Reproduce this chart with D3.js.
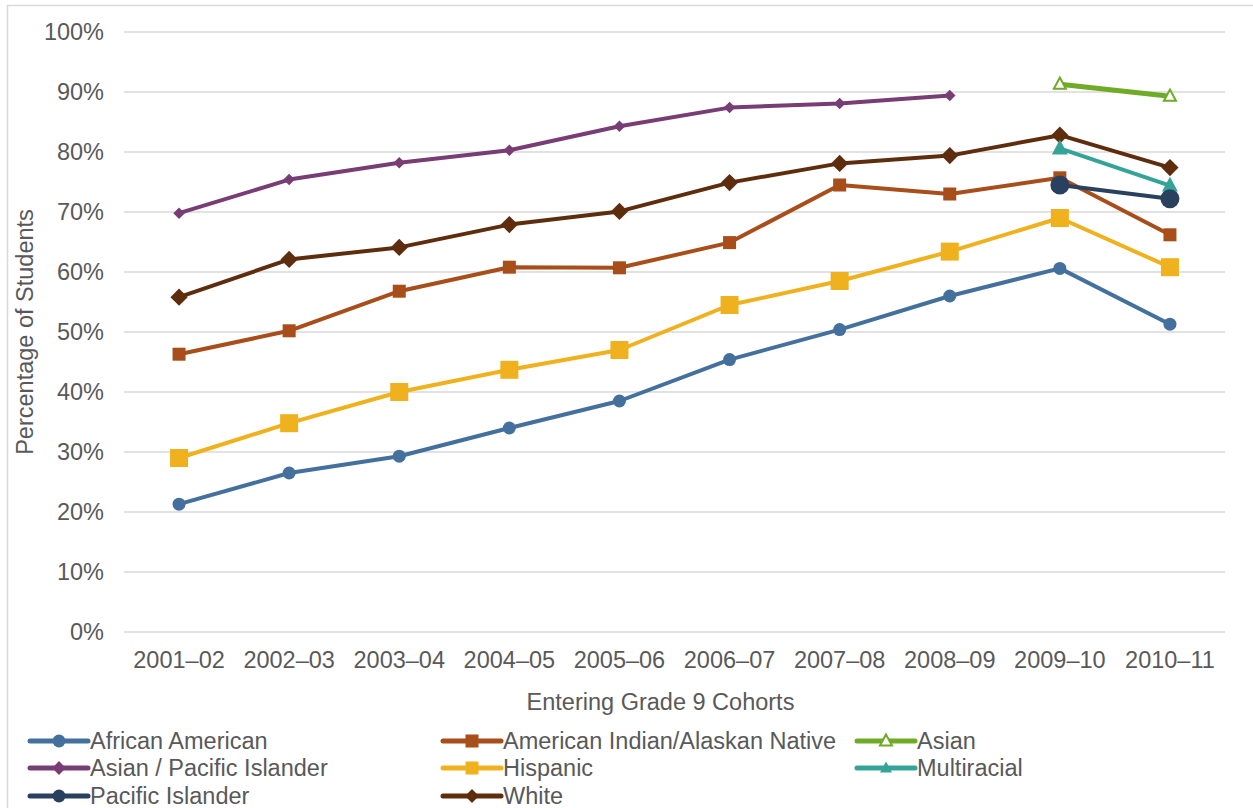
<!DOCTYPE html>
<html>
<head>
<meta charset="utf-8">
<script src="https://cdn.jsdelivr.net/npm/d3@7"></script>
<style>
  body { margin: 0; background: #fff; }
  text { font-family: "Liberation Sans", Arial, sans-serif; fill: #595959; }
</style>
</head>
<body>
<svg id="chart" width="1253" height="808"></svg>
<script>
// cohorts on the x axis
var cohorts = ['2001\u201302', '2002\u201303', '2003\u201304', '2004\u201305', '2005\u201306',
               '2006\u201307', '2007\u201308', '2008\u201309', '2009\u201310', '2010\u201311'];

// percentages, null where a group was not reported
var africanAmerican = [21.3, 26.5, 29.3, 34.0, 38.5, 45.4, 50.4, 56.0, 60.6, 51.3];
var amIndian        = [46.3, 50.2, 56.8, 60.8, 60.7, 64.9, 74.5, 73.0, 75.7, 66.2];
var asian           = [null, null, null, null, null, null, null, null, 91.3, 89.3];
var asianPacific    = [69.8, 75.4, 78.2, 80.3, 84.3, 87.4, 88.1, 89.4, null, null];
var hispanic        = [29.0, 34.8, 40.0, 43.7, 47.0, 54.5, 58.5, 63.4, 69.0, 60.8];
var multiracial     = [null, null, null, null, null, null, null, null, 80.6, 74.4];
var pacificIslander = [null, null, null, null, null, null, null, null, 74.5, 72.2];
var white           = [55.8, 62.1, 64.1, 67.9, 70.1, 74.9, 78.1, 79.4, 82.8, 77.4];

var yTicks = [0, 10, 20, 30, 40, 50, 60, 70, 80, 90, 100];

var series = [
  {name: 'African American', values: africanAmerican, color: '#44709d', shape: 'circle', size: 6.5},
  {name: 'American Indian/Alaskan Native', values: amIndian, color: '#a84e1a', shape: 'square', size: 13},
  {name: 'Asian', values: asian, color: '#6fab27', shape: 'triangleOpen', size: 12},
  {name: 'Asian / Pacific Islander', values: asianPacific, color: '#773d74', shape: 'diamond', size: 10},
  {name: 'Hispanic', values: hispanic, color: '#efb11d', shape: 'square', size: 18},
  {name: 'Multiracial', values: multiracial, color: '#35a397', shape: 'triangle', size: 16},
  {name: 'Pacific Islander', values: pacificIslander, color: '#2a405f', shape: 'circle', size: 9.5},
  {name: 'White', values: white, color: '#5e2d0e', shape: 'diamond', size: 15}
];

// draw order: the later groups sit on top
var drawOrder = [3, 0, 4, 1, 7, 5, 6, 2];

var svg = d3.select('#chart'),
    plotLeft = 124, plotRight = 1225, plotTop = 32, plotBottom = 632,
    fontSize = '23.5px';

var x = d3.scaleBand().domain(cohorts).range([plotLeft, plotRight]);
var y = d3.scaleLinear().domain([0, 100]).range([plotBottom, plotTop]);

// outer frame
svg.append('rect')
  .attr('x', 7.5).attr('y', 5.5)
  .attr('width', 1253).attr('height', 820)
  .attr('fill', 'none').attr('stroke', '#d9d9d9').attr('stroke-width', 1.5);

// gridlines
svg.append('g')
  .selectAll('line')
  .data(yTicks)
  .enter().append('line')
  .attr('x1', plotLeft).attr('x2', plotRight)
  .attr('y1', function(d){ return y(d); })
  .attr('y2', function(d){ return y(d); })
  .attr('stroke', '#d9d9d9').attr('stroke-width', 1.5);

var yAxis = svg.append('g')
  .attr('transform', 'translate(' + plotLeft + ',0)')
  .call(d3.axisLeft(y).tickValues(yTicks).tickSize(0).tickPadding(20)
    .tickFormat(function(d){ return d + '%'; }));
yAxis.select('.domain').remove();
yAxis.selectAll('text').style('font-size', fontSize).attr('fill', '#595959')
  .style('font-family', '"Liberation Sans", Arial, sans-serif');

var xAxis = svg.append('g')
  .attr('transform', 'translate(0,' + plotBottom + ')')
  .call(d3.axisBottom(x).tickSize(0).tickPadding(19));
xAxis.select('.domain').remove();
xAxis.selectAll('text').style('font-size', fontSize).attr('fill', '#595959')
  .style('font-family', '"Liberation Sans", Arial, sans-serif');

svg.append('text')
  .attr('x', (plotLeft + plotRight) / 2 - 14).attr('y', 710)
  .attr('text-anchor', 'middle')
  .style('font-size', fontSize)
  .text('Entering Grade 9 Cohorts');

svg.append('text')
  .attr('transform', 'translate(33,' + 332 + ') rotate(-90)')
  .attr('text-anchor', 'middle')
  .style('font-size', fontSize)
  .text('Percentage of Students');

function marker(g, s, cx, cy, size) {
  var m;
  if (s.shape === 'circle') {
    m = g.append('circle').attr('cx', cx).attr('cy', cy).attr('r', size).attr('fill', s.color);
  } else if (s.shape === 'square') {
    m = g.append('rect').attr('x', cx - size / 2).attr('y', cy - size / 2)
      .attr('width', size).attr('height', size).attr('fill', s.color);
  } else if (s.shape === 'diamond') {
    var h = size / 2 * 1.15;
    m = g.append('path')
      .attr('d', 'M' + cx + ',' + (cy - h) + 'L' + (cx + h) + ',' + cy + 'L' + cx + ',' + (cy + h) + 'L' + (cx - h) + ',' + cy + 'Z')
      .attr('fill', s.color);
  } else {
    var t = size / 2;
    m = g.append('path')
      .attr('d', 'M' + cx + ',' + (cy - t * 1.1) + 'L' + (cx + t) + ',' + (cy + t * 0.75) + 'L' + (cx - t) + ',' + (cy + t * 0.75) + 'Z');
    if (s.shape === 'triangleOpen') {
      m.attr('fill', '#fff').attr('stroke', s.color).attr('stroke-width', 2);
    } else {
      m.attr('fill', s.color);
    }
  }
  return m;
}

var line = d3.line()
  .defined(function(d){ return d.v !== null; })
  .x(function(d){ return x(d.c) + x.bandwidth() / 2; })
  .y(function(d){ return y(d.v); });

var plot = svg.append('g');

drawOrder.forEach(function(i){
  var s = series[i];
  var pts = cohorts.map(function(c, j){ return {c: c, v: s.values[j]}; });
  var g = plot.append('g');
  g.append('path')
    .datum(pts)
    .attr('d', line)
    .attr('fill', 'none')
    .attr('stroke', s.color)
    .attr('stroke-width', s.shape === 'triangleOpen' ? 5 : 4)
    .attr('stroke-linejoin', 'round');
  pts.filter(function(d){ return d.v !== null; }).forEach(function(d){
    marker(g, s, x(d.c) + x.bandwidth() / 2, y(d.v), s.size);
  });
});

// legend, three columns
var legendCols = [30, 443, 857],
    legendRows = [741, 768, 796];

var legend = svg.append('g');
series.forEach(function(s, i){
  var lx = legendCols[i % 3], ly = legendRows[Math.floor(i / 3)];
  var g = legend.append('g');
  g.append('line')
    .attr('x1', lx).attr('x2', lx + 58)
    .attr('y1', ly).attr('y2', ly)
    .attr('stroke', s.color).attr('stroke-width', 5).attr('stroke-linecap', 'round');
  var ls = s.shape === 'circle' ? 6.5 : (s.shape === 'square' ? 13 : 12);
  marker(g, s, lx + 29, ly, ls);
  g.append('text')
    .attr('x', lx + 60).attr('y', ly)
    .attr('dy', '0.35em')
    .style('font-size', fontSize)
    .text(s.name);
});
</script>
</body>
</html>
